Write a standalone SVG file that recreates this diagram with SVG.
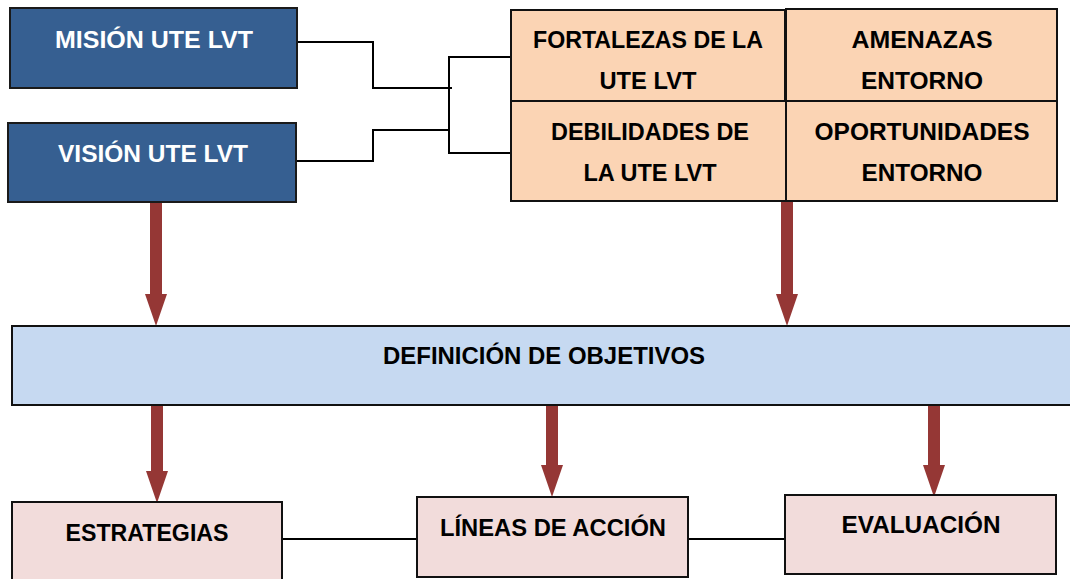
<svg xmlns="http://www.w3.org/2000/svg" width="1070" height="579" viewBox="0 0 1070 579">
<style>
text{font-family:"Liberation Sans",Arial,sans-serif;font-weight:bold;font-size:24px;text-anchor:middle}
.blue{fill:#365F91;stroke:#1a1a1a;stroke-width:2}
.peach{fill:#FBD4B4;stroke:#111;stroke-width:2}
.lblue{fill:#C6D9F1;stroke:#111;stroke-width:2}
.pink{fill:#F2DCDB;stroke:#111;stroke-width:2}
.w{fill:#fff}
.k{fill:#000}
.ln{fill:none;stroke:#000;stroke-width:2}
.arr{fill:#953735}
</style>
<g id="connectors">
<polyline class="ln" points="296,42 373,42 373,88 452,88"/>
<polyline class="ln" points="296,161 373,161 373,130 449,130"/>
<polyline class="ln" points="512,57 449,57 449,153 512,153"/>
<line class="ln" x1="282" y1="539" x2="417" y2="539"/>
<line class="ln" x1="688" y1="539" x2="785" y2="539"/>
<polygon class="arr" points="150,202 162,202 162,294 167,294 156,326 145,294 150,294"/>
<polygon class="arr" points="781,202 793,202 793,294 798,294 787,326 776,294 781,294"/>
<polygon class="arr" points="151,405 163,405 163,471 168,471 157,503 146,471 151,471"/>
<polygon class="arr" points="546,405 558,405 558,465 563,465 552,497 541,465 546,465"/>
<polygon class="arr" points="928,405 940,405 940,465 945,465 934,497 923,465 928,465"/>
</g>
<g id="mision">
<rect class="blue" x="10" y="8" width="287" height="80"/>
<text class="w" x="154" y="48" textLength="198" lengthAdjust="spacingAndGlyphs">MISIÓN UTE LVT</text>
</g>
<g id="vision">
<rect class="blue" x="8" y="123" width="288" height="79"/>
<text class="w" x="153" y="162" textLength="190" lengthAdjust="spacingAndGlyphs">VISIÓN UTE LVT</text>
</g>
<g id="fortalezas">
<rect class="peach" x="511" y="10" width="274" height="91"/>
<text class="k" x="648" y="48" textLength="230" lengthAdjust="spacingAndGlyphs">FORTALEZAS DE LA</text>
<text class="k" x="648" y="89" textLength="97" lengthAdjust="spacingAndGlyphs">UTE LVT</text>
</g>
<g id="amenazas">
<rect class="peach" x="786" y="9" width="271" height="92"/>
<text class="k" x="922" y="48" textLength="141" lengthAdjust="spacingAndGlyphs">AMENAZAS</text>
<text class="k" x="922" y="89" textLength="122" lengthAdjust="spacingAndGlyphs">ENTORNO</text>
</g>
<g id="debilidades">
<rect class="peach" x="511" y="101" width="275" height="100"/>
<text class="k" x="650" y="140" textLength="198" lengthAdjust="spacingAndGlyphs">DEBILIDADES DE</text>
<text class="k" x="650" y="181" textLength="133" lengthAdjust="spacingAndGlyphs">LA UTE LVT</text>
</g>
<g id="oportunidades">
<rect class="peach" x="786" y="101" width="271" height="100"/>
<text class="k" x="922" y="140" textLength="215" lengthAdjust="spacingAndGlyphs">OPORTUNIDADES</text>
<text class="k" x="922" y="181" textLength="121" lengthAdjust="spacingAndGlyphs">ENTORNO</text>
</g>
<g id="definicion">
<rect class="lblue" x="12" y="326" width="1070" height="79"/>
<text class="k" x="544" y="364" textLength="322" lengthAdjust="spacingAndGlyphs">DEFINICIÓN DE OBJETIVOS</text>
</g>
<g id="estrategias">
<rect class="pink" x="12" y="502" width="270" height="90"/>
<text class="k" x="147" y="541" textLength="163" lengthAdjust="spacingAndGlyphs">ESTRATEGIAS</text>
</g>
<g id="lineas">
<rect class="pink" x="417" y="497" width="271" height="80"/>
<text class="k" x="553" y="536" textLength="226" lengthAdjust="spacingAndGlyphs">LÍNEAS DE ACCIÓN</text>
</g>
<g id="evaluacion">
<rect class="pink" x="785" y="495" width="271" height="79"/>
<text class="k" x="921" y="533" textLength="159" lengthAdjust="spacingAndGlyphs">EVALUACIÓN</text>
</g>
</svg>
